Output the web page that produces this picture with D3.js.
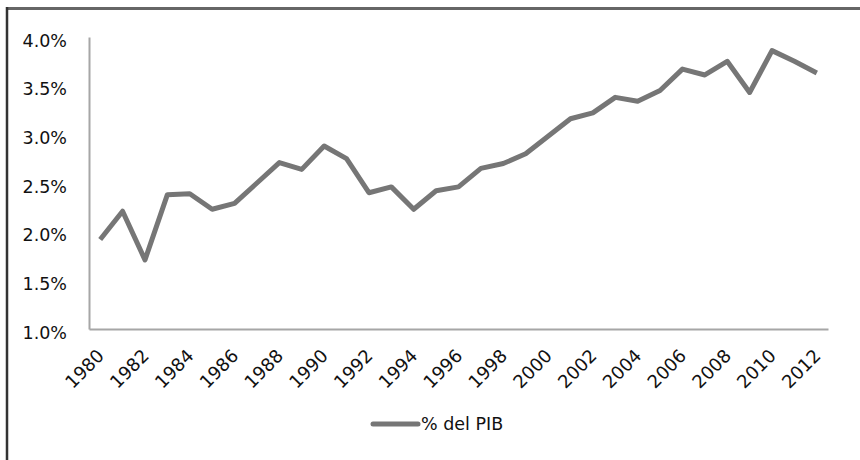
<!DOCTYPE html>
<html>
<head>
<meta charset="utf-8">
<script src="https://cdn.jsdelivr.net/npm/d3@7"></script>
<style>
  body { margin: 0; background: #fff; }
  text { font-family: "DejaVu Sans", sans-serif; fill: #111; }
</style>
</head>
<body>
<svg id="chart" width="860" height="460"></svg>
<script>
// data (% del PIB)
var years = d3.range(1980, 2013).map(String);
var pib = [1.92, 2.21, 1.71, 2.38, 2.39, 2.23, 2.29, 2.50, 2.71, 2.64,
           2.88, 2.75, 2.40, 2.46, 2.23, 2.42, 2.46, 2.65, 2.70, 2.80,
           2.98, 3.16, 3.22, 3.38, 3.34, 3.45, 3.67, 3.61, 3.75, 3.43,
           3.86, 3.75, 3.63];
var yTicks = [1.0, 1.5, 2.0, 2.5, 3.0, 3.5, 4.0];
var xTicks = years.filter(function (d) { return +d % 2 === 0; });
var seriesName = "% del PIB";

var svg = d3.select("#chart");
var lineColor = "#767676";

// frame (top and left edges only, like the crop)
svg.append("line").attr("x1", 6).attr("x2", 860).attr("y1", 8.5).attr("y2", 8.5)
    .attr("stroke", "#666").attr("stroke-width", 3);
svg.append("line").attr("x1", 7).attr("x2", 7).attr("y1", 7).attr("y2", 460)
    .attr("stroke", "#333").attr("stroke-width", 2.5);

var x = d3.scaleBand().domain(years).range([89, 828]);
var y = d3.scaleLinear().domain([1, 4]).range([329, 37]);

// y axis
var yAxis = svg.append("g").attr("transform", "translate(89,0)")
    .call(d3.axisLeft(y).tickValues(yTicks).tickSize(0).tickPadding(22)
        .tickFormat(function (d) { return d.toFixed(1) + "%"; }));
yAxis.select(".domain").attr("stroke", "#a6a6a6").attr("stroke-width", 2);
yAxis.selectAll("text").style("font-size", "17.5px").attr("dy", "0.52em")
    .attr("font-family", "DejaVu Sans").attr("fill", "#111");

// x axis
var xAxis = svg.append("g").attr("transform", "translate(0,329)")
    .call(d3.axisBottom(x).tickValues(xTicks).tickSize(0));
xAxis.select(".domain").attr("stroke", "#a6a6a6").attr("stroke-width", 2);
xAxis.selectAll("text")
    .style("font-size", "18px")
    .attr("font-family", "DejaVu Sans").attr("fill", "#111")
    .attr("text-anchor", "end")
    .attr("dy", null)
    .attr("y", 0)
    .attr("transform", "translate(5,28) rotate(-45)");

// series line
var line = d3.line()
    .x(function (d, i) { return x(years[i]) + x.bandwidth() / 2; })
    .y(function (d) { return y(d); });

svg.append("path")
    .datum(pib)
    .attr("d", line)
    .attr("fill", "none")
    .attr("stroke", lineColor)
    .attr("stroke-width", 5)
    .attr("stroke-linejoin", "round");

// legend
svg.append("line").attr("x1", 373).attr("x2", 418).attr("y1", 424).attr("y2", 424)
    .attr("stroke", lineColor).attr("stroke-width", 5).attr("stroke-linecap", "round");
svg.append("text").attr("x", 421).attr("y", 424).attr("dy", "0.36em")
    .style("font-size", "17.5px").text(seriesName);
</script>
</body>
</html>
